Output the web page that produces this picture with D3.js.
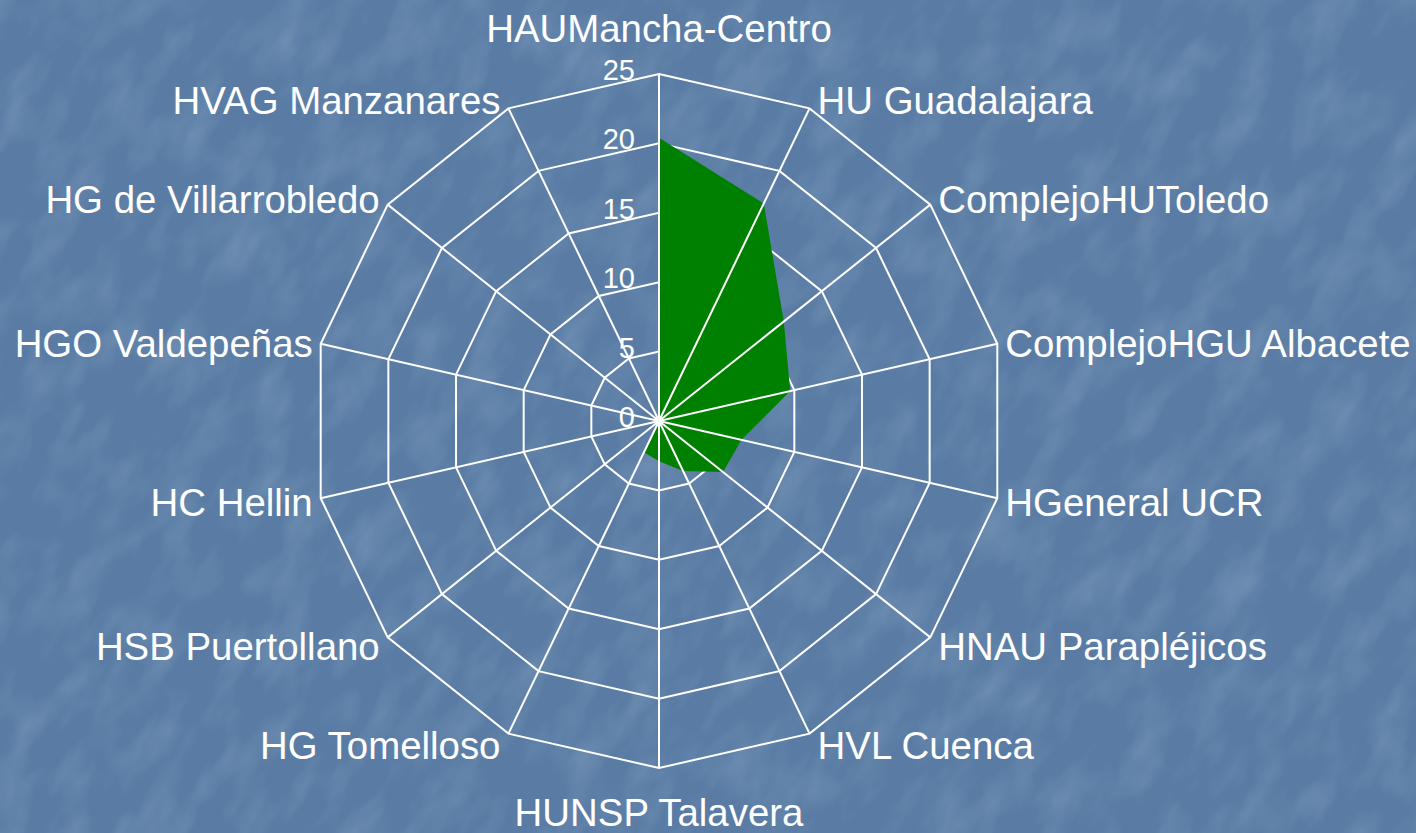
<!DOCTYPE html>
<html>
<head>
<meta charset="utf-8">
<script src="https://cdn.jsdelivr.net/npm/d3@7"></script>
<style>
  body { margin: 0; background: #5b7ea6; overflow: hidden; }
  svg { display: block; }
  text { font-family: "Liberation Sans", Arial, sans-serif; fill: #fff; }
</style>
</head>
<body>
<script>
const w = 1416;
const h = 833;

// hospitals, clockwise from the top
const categories = [
  "HAUMancha-Centro", "HU Guadalajara", "ComplejoHUToledo", "ComplejoHGU Albacete",
  "HGeneral UCR", "HNAU Parapléjicos", "HVL Cuenca", "HUNSP Talavera",
  "HG Tomelloso", "HSB Puertollano", "HC Hellin", "HGO Valdepeñas",
  "HG de Villarrobledo", "HVAG Manzanares"
];
const values = [20.4, 17.4, 11.5, 9.7, 6.1, 5.9, 4.0, 2.9, 2.5, 0, 0, 0, 0, 0];
const ticks = [0, 5, 10, 15, 20, 25];

const cx = 659, cy = 421, R = 347;

let svg = d3.select("body")
    .append("svg")
    .attr("width", w)
    .attr("height", h);

// mottled blue background
let defs = svg.append("defs");
let f = defs.append("filter").attr("id", "tex")
    .attr("filterUnits", "userSpaceOnUse")
    .attr("x", -400).attr("y", -400).attr("width", 2300).attr("height", 1700);
f.append("feTurbulence")
    .attr("type", "fractalNoise")
    .attr("baseFrequency", "0.03 0.015")
    .attr("numOctaves", 3)
    .attr("seed", 7);
f.append("feColorMatrix")
    .attr("type", "matrix")
    .attr("values", "0 0 0 0 0.55  0 0 0 0 0.68  0 0 0 0 0.82  0 0 0 1.2 -0.5");
svg.append("rect").attr("width", w).attr("height", h).attr("fill", "#5a7ca4");
svg.append("rect")
    .attr("x", -400).attr("y", -400).attr("width", 2300).attr("height", 1700)
    .attr("transform", "rotate(30 708 416)")
    .attr("filter", "url(#tex)").style("opacity", 0.3);

let r = d3.scaleLinear().domain([0, 25]).range([0, R]);
let angle = d3.scaleLinear().domain([0, categories.length]).range([0, 2 * Math.PI]);

let pt = (i, v) => [cx + r(v) * Math.sin(angle(i)), cy - r(v) * Math.cos(angle(i))];

// grid rings
let g = svg.append("g").style("stroke", "#fff").style("stroke-width", 2).style("fill", "none");
ticks.slice(1).forEach(t => {
    g.append("path").attr("d", d3.line()(categories.map((c, i) => pt(i, t))) + "Z");
});

// data area (covers the rings, spokes stay on top)
svg.append("path")
    .attr("d", d3.line()(values.map((v, i) => pt(i, v))) + "Z")
    .style("fill", "#008000");

// spokes
let sp = svg.append("g").style("stroke", "#fff").style("stroke-width", 2);
categories.forEach((c, i) => {
    let p = pt(i, 25);
    sp.append("line").attr("x1", cx).attr("y1", cy).attr("x2", p[0]).attr("y2", p[1]);
});

// value labels
svg.selectAll(".tick")
    .data(ticks)
    .enter()
    .append("text")
    .attr("class", "tick")
    .attr("x", cx - 24)
    .attr("y", (d) => cy - r(d) + 6)
    .attr("text-anchor", "end")
    .style("font-size", "29px")
    .text((d) => d);

// category labels
svg.selectAll(".cat")
    .data(categories)
    .enter()
    .append("text")
    .attr("class", "cat")
    .style("font-size", "38.4px")
    .each(function(d, i) {
        let a = angle(i);
        let s = Math.sin(a), c = Math.cos(a);
        let p = pt(i, 25);
        let t = d3.select(this);
        if (Math.abs(s) < 0.01) {
            t.attr("text-anchor", "middle").attr("x", cx)
             .attr("y", c > 0 ? 42 : 826);
        } else {
            t.attr("text-anchor", s > 0 ? "start" : "end")
             .attr("x", p[0] + (s > 0 ? 8 : -8))
             .attr("y", p[1] - 11 * c + 2)
             .attr("dy", "0.35em");
        }
        t.text(d);
    });
</script>
</body>
</html>
